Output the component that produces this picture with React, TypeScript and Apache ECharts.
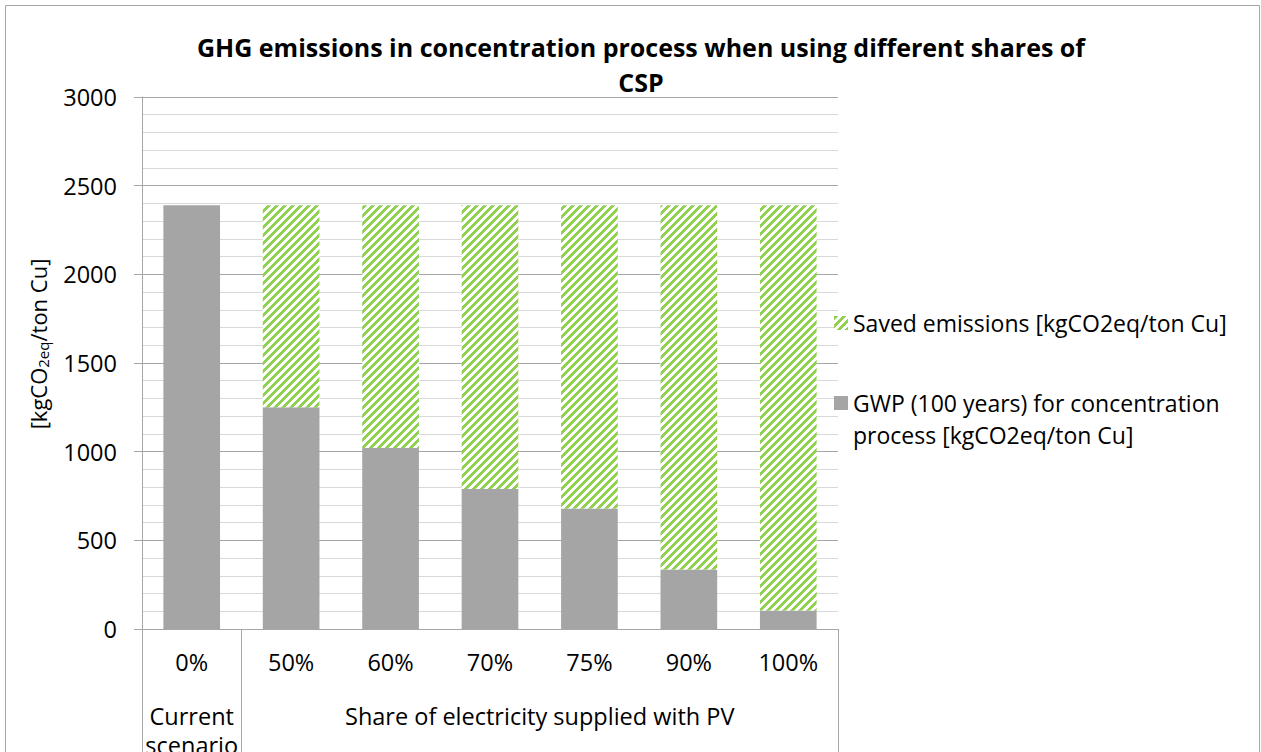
import React, { useEffect, useRef } from "react";
import * as echarts from "echarts";

const categories = ["0%", "50%", "60%", "70%", "75%", "90%", "100%"];
const gwpValues = [2390, 1250, 1020, 790, 680, 335, 105];
const savedValues = [0, 1140, 1370, 1600, 1710, 2055, 2285];
const yTicks = { min: 0, max: 3000, interval: 500 };
const seriesNames = {
  saved: "Saved emissions [kgCO2eq/ton Cu]",
  gwp: "GWP (100 years) for concentration process [kgCO2eq/ton Cu]",
};
const groupLabels = ["Current\nscenario", "Share of electricity supplied with PV"];
const groupSpans = [1, 6];

const FONT = "'Open Sans', 'Noto Sans', sans-serif";

function makeHatch() {
  const size = 8;
  const c = document.createElement("canvas");
  c.width = size;
  c.height = size;
  const ctx = c.getContext("2d")!;
  ctx.fillStyle = "#ffffff";
  ctx.fillRect(0, 0, size, size);
  ctx.fillStyle = "#92D050";
  for (let y = 0; y < size; y++) {
    for (let x = 0; x < size; x++) {
      if ((x + y) % size < 4) ctx.fillRect(x, y, 1, 1);
    }
  }
  return { image: c.toDataURL(), repeat: "repeat", imageWidth: size, imageHeight: size } as any;
}

export default function App() {
  const ref = useRef<HTMLDivElement>(null);
  useEffect(() => {
    if (!ref.current) return;
    const chart = echarts.init(ref.current, null, { renderer: "svg" });
    const W = 1261;
    const gridLeft = 142;
    const gridRight = 838;
    const gridTop = 97;
    const gridBottom = 629;
    const catW = (gridRight - gridLeft) / categories.length;
    const hatch = makeHatch();
    const AX = 23.5;

    const graphics: any[] = [
      {
        type: "rect",
        shape: { x: 5.5, y: 5.5, width: 1254, height: 780 },
        style: { fill: "none", stroke: "#A6A6A6", lineWidth: 1 },
        silent: true,
      },
      {
        type: "text",
        x: 641,
        y: 64,
        style: {
          text: "GHG emissions in concentration process when using different shares of\nCSP",
          fontFamily: FONT,
          fontWeight: "bold",
          fontSize: 25,
          lineHeight: 35,
          align: "center",
          verticalAlign: "middle",
          fill: "#000",
        },
      },
      {
        type: "text",
        x: 38,
        y: 344,
        rotation: Math.PI / 2,
        style: {
          text: "[kgCO{sub|2eq}/ton Cu]",
          fontFamily: FONT,
          fontSize: 22,
          align: "center",
          verticalAlign: "middle",
          fill: "#000",
          rich: {
            sub: { fontFamily: FONT, fontSize: 15, padding: [10, 0, 0, 0], fill: "#000" },
          },
        },
      },
    ];
    let start = 0;
    const seps = [0];
    groupSpans.forEach((span, i) => {
      const x0 = gridLeft + start * catW;
      const x1 = gridLeft + (start + span) * catW;
      graphics.push({
        type: "text",
        x: (x0 + x1) / 2,
        y: 701,
        style: {
          text: groupLabels[i],
          fontFamily: FONT,
          fontSize: AX,
          lineHeight: 29,
          align: "center",
          verticalAlign: "top",
          fill: "#000",
        },
      });
      start += span;
      seps.push(start);
    });
    seps.forEach((s) => {
      const x = Math.round(gridLeft + s * catW) + 0.5;
      graphics.push({
        type: "line",
        shape: { x1: x, y1: gridBottom, x2: x, y2: 760 },
        style: { stroke: "#A6A6A6", lineWidth: 1 },
        silent: true,
      });
    });

    const legendText = { fontFamily: FONT, fontSize: 23, lineHeight: 32, color: "#000" };

    chart.setOption({
      animation: false,
      backgroundColor: "#ffffff",
      textStyle: { fontFamily: FONT },
      grid: {
        left: gridLeft,
        right: W - gridRight,
        top: gridTop,
        bottom: 752 - gridBottom,
        containLabel: false,
        outerBoundsMode: "none",
      },
      legend: [
        {
          data: [seriesNames.saved],
          orient: "vertical",
          left: 834,
          top: 307,
          padding: 0,
          itemWidth: 14,
          itemHeight: 14,
          itemGap: 0,
          icon: "rect",
          textStyle: legendText,
        },
        {
          data: [seriesNames.gwp],
          orient: "vertical",
          left: 834,
          top: 355,
          padding: 0,
          itemWidth: 14,
          itemHeight: 14,
          itemGap: 0,
          icon: "rect",
          formatter: () => " \nGWP (100 years) for concentration\nprocess [kgCO2eq/ton Cu]",
          textStyle: legendText,
        },
      ],
      xAxis: {
        type: "category",
        data: categories,
        axisLine: { show: true, lineStyle: { color: "#A6A6A6", width: 1 } },
        axisTick: { show: false },
        axisLabel: { color: "#000", fontFamily: FONT, fontSize: AX, margin: 21 },
        splitLine: { show: false },
      },
      yAxis: {
        type: "value",
        min: yTicks.min,
        max: yTicks.max,
        interval: yTicks.interval,
        axisLine: { show: true, lineStyle: { color: "#A6A6A6", width: 1 } },
        axisTick: { show: true, length: 8, lineStyle: { color: "#A6A6A6" } },
        axisLabel: {
          color: "#000",
          fontFamily: FONT,
          fontSize: AX,
          margin: 25,
          formatter: (v: number) => String(v),
        },
        splitLine: { show: true, lineStyle: { color: "#A6A6A6", width: 1 } },
        minorTick: { show: false, splitNumber: 5 },
        minorSplitLine: { show: true, lineStyle: { color: "#D9D9D9", width: 1 } },
      },
      series: [
        {
          name: seriesNames.gwp,
          type: "bar",
          stack: "total",
          barWidth: "57%",
          itemStyle: { color: "#A5A5A5" },
          data: gwpValues,
        },
        {
          name: seriesNames.saved,
          type: "bar",
          stack: "total",
          barWidth: "57%",
          itemStyle: { color: hatch },
          data: savedValues,
        },
      ],
      graphic: graphics,
    });
    return () => chart.dispose();
  }, []);
  return (
    <div
      ref={ref}
      style={{ position: "fixed", left: 0, top: 0, width: 1261, height: 752, background: "#fff" }}
    />
  );
}
